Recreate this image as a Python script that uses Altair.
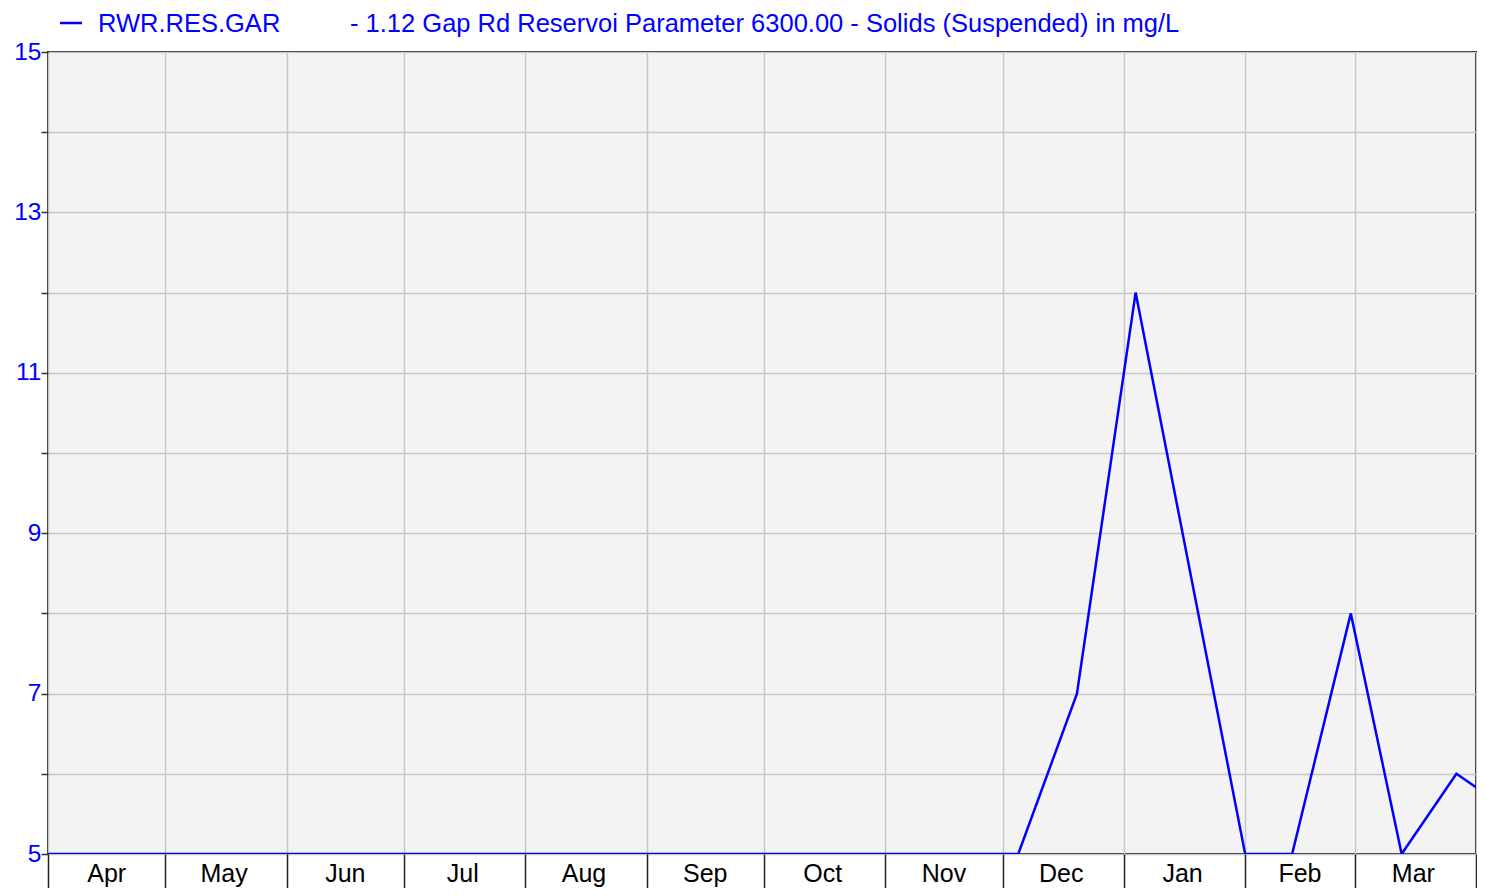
import altair as alt
import pandas as pd

# sample dates and Suspended Solids values (mg/L)
dates = ["2018-04-01", "2018-04-18", "2018-05-02", "2018-05-16", "2018-06-06", "2018-06-20",
         "2018-07-04", "2018-07-18", "2018-08-01", "2018-08-15", "2018-09-05", "2018-09-19",
         "2018-10-03", "2018-10-17", "2018-11-07", "2018-11-21", "2018-12-05", "2018-12-20",
         "2019-01-04", "2019-02-01", "2019-02-13", "2019-02-28", "2019-03-13", "2019-03-27",
         "2019-04-26"]
values = [5, 5, 5, 5, 5, 5,
          5, 5, 5, 5, 5, 5,
          5, 5, 5, 5, 5, 7,
          12, 5, 5, 8, 5, 6,
          5]

month_labels = ["Apr", "May", "Jun", "Jul", "Aug", "Sep", "Oct", "Nov", "Dec", "Jan", "Feb", "Mar"]
month_starts = ["2018-04-01", "2018-05-01", "2018-06-01", "2018-07-01", "2018-08-01", "2018-09-01",
                "2018-10-01", "2018-11-01", "2018-12-01", "2019-01-01", "2019-02-01", "2019-03-01",
                "2019-04-01"]
month_mids = ["2018-04-16", "2018-05-16", "2018-06-16", "2018-07-16", "2018-08-16", "2018-09-16",
              "2018-10-16", "2018-11-16", "2018-12-16", "2019-01-16", "2019-02-15", "2019-03-16"]

y_ticks = [5, 6, 7, 8, 9, 10, 11, 12, 13, 14, 15]

series_name = "RWR.RES.GAR"
series_desc = "- 1.12 Gap Rd Reservoi Parameter 6300.00 - Solids (Suspended) in mg/L"

W, H = 1428, 802
FONT = "Liberation Sans"
BLUE = "#0000ff"

df = pd.DataFrame({"date": pd.to_datetime(dates), "value": values})
mdf = pd.DataFrame({"date": pd.to_datetime(month_mids), "label": month_labels})

xscale = alt.Scale(domain=[pd.Timestamp("2018-04-01").isoformat(), pd.Timestamp("2019-04-01").isoformat()])
yscale = alt.Scale(domain=[5, 15], nice=False, zero=False)

xaxis = alt.Axis(
    values=[pd.Timestamp(d).isoformat() for d in month_starts],
    labels=False, title=None, grid=True, gridColor="#c8c8c8", gridWidth=1.5,
    tickSize=40, tickColor="#222222", tickWidth=1.5, domain=False,
)
yaxis = alt.Axis(
    values=y_ticks, title=None, grid=True, gridColor="#c8c8c8", gridWidth=1.5,
    labelExpr="datum.value % 2 == 1 ? datum.label : ''",
    labelColor=BLUE, labelFont=FONT, labelFontSize=24.5, labelPadding=0,
    tickSize=7, tickColor="#333333", tickWidth=1.5, domain=False,
)

line = alt.Chart(df).mark_line(color=BLUE, strokeWidth=2.5, clip=True).encode(
    x=alt.X("date:T", scale=xscale, axis=xaxis),
    y=alt.Y("value:Q", scale=yscale, axis=yaxis),
)

months = alt.Chart(mdf).mark_text(font=FONT, fontSize=25, color="#000000", baseline="alphabetic").encode(
    x=alt.X("date:T", scale=xscale),
    y=alt.value(H + 28),
    text="label:N",
)

leg_df = pd.DataFrame({"name": [series_name], "desc": [series_desc]})
leg_dash = alt.Chart(leg_df).mark_rule(color=BLUE, strokeWidth=2.5).encode(
    x=alt.value(12), x2=alt.value(34), y=alt.value(-29),
)
leg_name = alt.Chart(leg_df).mark_text(font=FONT, fontSize=25.5, color=BLUE, align="left", baseline="middle").encode(
    x=alt.value(50), y=alt.value(-28), text="name:N",
)
leg_desc = alt.Chart(leg_df).mark_text(font=FONT, fontSize=25.5, color=BLUE, align="left", baseline="middle").encode(
    x=alt.value(302), y=alt.value(-28), text="desc:N",
)

chart = alt.layer(line, months, leg_dash, leg_name, leg_desc).properties(
    width=W, height=H,
    autosize=alt.AutoSizeParams(type="none"),
    padding={"left": 40, "top": 44, "right": 1, "bottom": 34},
    background="#ffffff",
).configure_view(
    fill="#f3f3f3", stroke="#222222", strokeWidth=2,
)

chart.save("out.html", embed_options={"renderer": "svg", "actions": False})
